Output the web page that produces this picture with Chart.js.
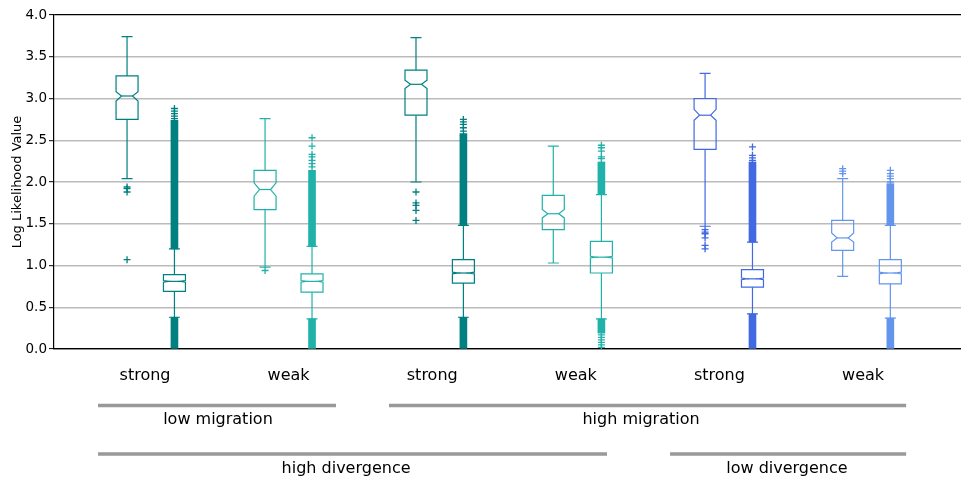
<!DOCTYPE html>
<html>
<head>
<meta charset="utf-8">
<script src="https://cdn.jsdelivr.net/npm/chart.js@4.4.0/dist/chart.umd.min.js"></script>
<style>
  html, body { margin: 0; padding: 0; background: #fff; }
</style>
</head>
<body>
<canvas id="likelihoodChart" width="961" height="479"></canvas>
<script>
// x tick labels and where they sit on the x axis
var categories = ['strong', 'weak', 'strong', 'weak', 'strong', 'weak'];
var categoryPositions = [1, 2, 3, 4, 5, 6];

// box positions on the x axis (two boxes per category)
var boxPositions = [0.875, 1.205, 1.836, 2.163, 2.887, 3.217, 3.843, 4.178, 4.900, 5.230, 5.858, 6.190];

// box statistics, one value per box
var whiskerLow  = [2.04, 0.38, 0.98, 0.36, 2.00, 0.38, 1.03, 0.36, 1.47, 0.42, 0.87, 0.37];
var q1          = [2.75, 0.69, 1.67, 0.68, 2.80, 0.79, 1.43, 0.91, 2.39, 0.74, 1.18, 0.78];
var medians     = [3.03, 0.81, 1.91, 0.81, 3.17, 0.91, 1.62, 1.10, 2.80, 0.84, 1.33, 0.91];
var q3          = [3.27, 0.89, 2.14, 0.90, 3.34, 1.07, 1.84, 1.29, 3.00, 0.95, 1.54, 1.07];
var whiskerHigh = [3.74, 1.20, 2.76, 1.23, 3.73, 1.48, 2.43, 1.85, 3.30, 1.28, 2.04, 1.48];
var notchLow    = [2.97, 0.80, 1.83, 0.80, 3.12, 0.90, 1.57, 1.09, 2.74, 0.83, 1.28, 0.90];
var notchHigh   = [3.08, 0.82, 1.99, 0.82, 3.22, 0.92, 1.67, 1.11, 2.87, 0.85, 1.39, 0.92];

// single outliers that can be told apart
var outliers = [
  [1.94, 1.92, 1.88, 1.07],
  [2.88, 2.85, 2.82, 2.79, 2.76],
  [0.94],
  [2.53, 2.43, 2.33, 2.30, 2.26, 2.22, 2.18],
  [1.88, 1.75, 1.72, 1.66, 1.54],
  [2.75, 2.72, 2.69, 2.65, 2.61],
  [],
  [2.44, 2.41, 2.37, 2.30, 2.28, 0.17, 0.14, 0.11, 0.08, 0.05, 0.02],
  [1.43, 1.40, 1.38, 1.33, 1.24, 1.20],
  [2.42, 2.32, 2.29, 2.26],
  [2.16, 2.13, 2.10],
  [2.14, 2.10, 2.07, 2.04, 2.00]
];

// ranges where outliers are so dense they merge into a solid column
var denseOutliers = [
  [],
  [[1.20, 2.74], [0, 0.38]],
  [],
  [[1.23, 2.14], [0, 0.36]],
  [],
  [[1.48, 2.58], [0, 0.38]],
  [],
  [[1.85, 2.24], [0.19, 0.36]],
  [],
  [[1.28, 2.24], [0, 0.42]],
  [],
  [[1.48, 1.98], [0, 0.37]]
];

// group brackets under the axis
var groupNames    = ['low migration', 'high migration', 'high divergence', 'low divergence'];
var groupStart    = [0.673, 2.699, 0.673, 4.656];
var groupEnd      = [2.330, 6.300, 4.217, 6.300];
var groupLabelPos = [1.508, 4.454, 2.400, 5.470];
var groupRow      = [0, 0, 1, 1];

var teal = '#008080', seaGreen = '#20b2aa', royal = '#4169e1', cornflower = '#6495ed';
var boxColors = [teal, teal, seaGreen, seaGreen, teal, teal, seaGreen, seaGreen, royal, royal, cornflower, cornflower];

Chart.defaults.font.family = "'DejaVu Sans', sans-serif";
Chart.defaults.color = '#000';

var datasets = [];

// dense outlier columns as floating bars
var bandData = [], bandColors = [];
denseOutliers.forEach(function(bands, i) {
  bands.forEach(function(b) {
    bandData.push({ x: boxPositions[i], y: [b[0], b[1]] });
    bandColors.push(boxColors[i]);
  });
});
datasets.push({
  type: 'bar',
  data: bandData,
  backgroundColor: bandColors,
  borderWidth: 0,
  barThickness: 7,
  grouped: false
});

outliers.forEach(function(vals, i) {
  if (!vals.length) return;
  datasets.push({
    type: 'scatter',
    data: vals.map(function(v) { return { x: boxPositions[i], y: v }; }),
    pointStyle: 'cross',
    pointRadius: 3.5,
    borderWidth: 1.3,
    borderColor: boxColors[i],
    backgroundColor: boxColors[i]
  });
});

var boxPlugin = {
  id: 'notchedBoxes',
  afterDatasetsDraw: function(chart) {
    var ctx = chart.ctx, xs = chart.scales.x, ys = chart.scales.y;
    var half = 11;
    ctx.save();
    ctx.lineWidth = 1.2;
    boxPositions.forEach(function(pos, i) {
      var cx = xs.getPixelForValue(pos);
      var l = cx - half, r = cx + half, nl = cx - half / 2, nr = cx + half / 2;
      var yWl = ys.getPixelForValue(whiskerLow[i]), yWh = ys.getPixelForValue(whiskerHigh[i]);
      var yQ1 = ys.getPixelForValue(q1[i]), yQ3 = ys.getPixelForValue(q3[i]);
      var yMed = ys.getPixelForValue(medians[i]);
      var yNl = ys.getPixelForValue(notchLow[i]), yNh = ys.getPixelForValue(notchHigh[i]);
      ctx.strokeStyle = boxColors[i];

      ctx.beginPath();
      ctx.moveTo(cx, yQ3); ctx.lineTo(cx, yWh);
      ctx.moveTo(cx, yQ1); ctx.lineTo(cx, yWl);
      ctx.moveTo(nl, yWh); ctx.lineTo(nr, yWh);
      ctx.moveTo(nl, yWl); ctx.lineTo(nr, yWl);
      ctx.stroke();

      ctx.beginPath();
      ctx.moveTo(l, yQ1);
      ctx.lineTo(r, yQ1);
      ctx.lineTo(r, yNl);
      ctx.lineTo(nr, yMed);
      ctx.lineTo(r, yNh);
      ctx.lineTo(r, yQ3);
      ctx.lineTo(l, yQ3);
      ctx.lineTo(l, yNh);
      ctx.lineTo(nl, yMed);
      ctx.lineTo(l, yNl);
      ctx.closePath();
      ctx.stroke();

      ctx.beginPath();
      ctx.moveTo(nl, yMed); ctx.lineTo(nr, yMed);
      ctx.stroke();
    });
    ctx.restore();
  }
};

var groupPlugin = {
  id: 'groupBrackets',
  afterDraw: function(chart) {
    var ctx = chart.ctx, xs = chart.scales.x;
    var base = chart.chartArea.bottom;
    var lineY = [base + 56.5, base + 105], textY = [base + 71, base + 120];
    ctx.save();
    ctx.strokeStyle = '#999999';
    ctx.lineWidth = 3.5;
    ctx.fillStyle = '#000';
    ctx.font = "16px 'DejaVu Sans', sans-serif";
    ctx.textAlign = 'center';
    ctx.textBaseline = 'middle';
    groupNames.forEach(function(name, i) {
      var x0 = xs.getPixelForValue(groupStart[i]), x1 = xs.getPixelForValue(groupEnd[i]);
      var row = groupRow[i];
      ctx.beginPath();
      ctx.moveTo(x0, lineY[row]);
      ctx.lineTo(x1, lineY[row]);
      ctx.stroke();
      ctx.fillText(name, xs.getPixelForValue(groupLabelPos[i]), textY[row]);
    });
    ctx.restore();
  }
};

new Chart(document.getElementById('likelihoodChart').getContext('2d'), {
  type: 'scatter',
  data: { datasets: datasets },
  plugins: [boxPlugin, groupPlugin],
  options: {
    responsive: false,
    devicePixelRatio: 1,
    animation: false,
    events: [],
    layout: { autoPadding: false, padding: { top: 15, left: 0, right: 0, bottom: 0 } },
    plugins: { legend: { display: false }, tooltip: { enabled: false } },
    scales: {
      x: {
        type: 'linear',
        min: 0.3663,
        max: 6.682,
        offset: false,
        afterBuildTicks: function(scale) {
          scale.ticks = categoryPositions.map(function(v) { return { value: v }; });
        },
        afterFit: function(scale) {
          scale.height = 130;
          scale.paddingLeft = 0;
          scale.paddingRight = 0;
        },
        grid: { display: false, drawTicks: false },
        border: { display: true, color: '#000', width: 1.2 },
        ticks: {
          autoSkip: false,
          maxRotation: 0,
          padding: 17,
          font: { size: 16 },
          callback: function(value, index) { return categories[index]; }
        }
      },
      y: {
        min: 0,
        max: 4,
        afterFit: function(scale) {
          scale.width = 54;
          scale.paddingTop = 0;
          scale.paddingBottom = 0;
        },
        ticks: {
          stepSize: 0.5,
          padding: 2,
          font: { size: 13.5 },
          callback: function(v) { return v.toFixed(1); }
        },
        grid: {
          color: function(c) { return (c.tick.value === 0 || c.tick.value === 4) ? '#000' : '#bbbbbb'; },
          lineWidth: function(c) { return (c.tick.value === 0 || c.tick.value === 4) ? 1.2 : 1.4; },
          tickColor: '#000',
          tickLength: 5,
          tickWidth: 1
        },
        border: { display: true, color: '#000', width: 1.2 },
        title: {
          display: true,
          text: 'Log Likelihood Value',
          font: { size: 13 },
          padding: { top: 10, bottom: 0 }
        }
      }
    }
  }
});
</script>
</body>
</html>
